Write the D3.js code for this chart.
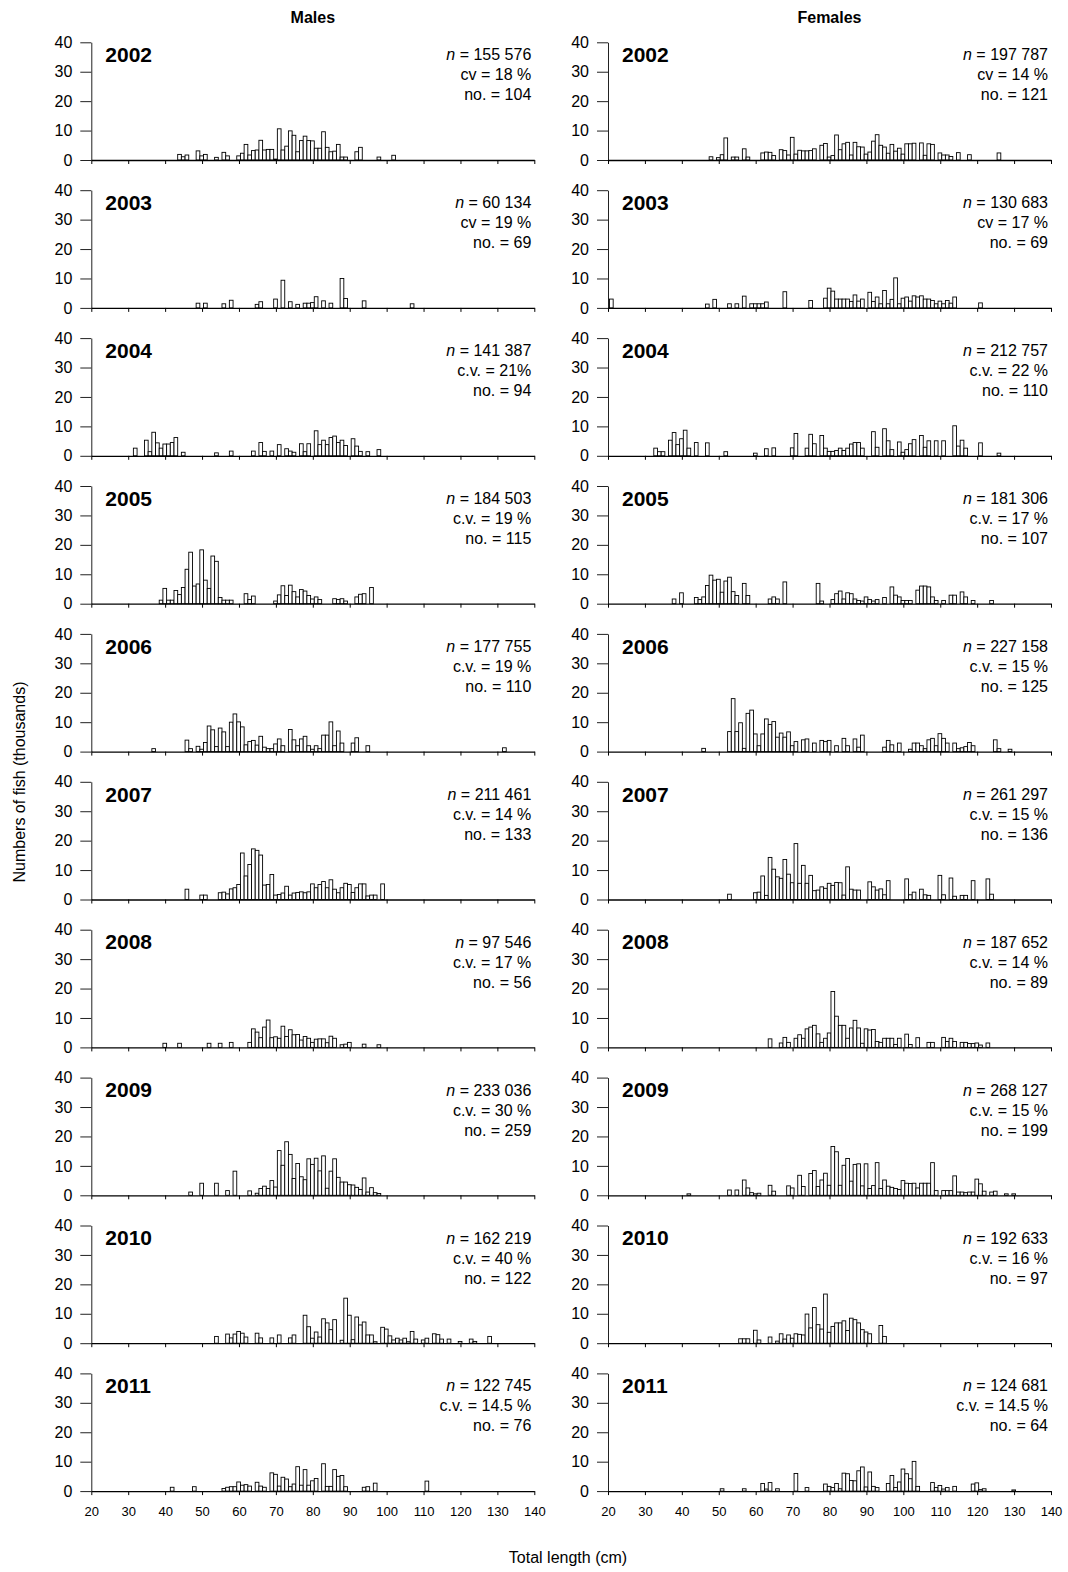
<!DOCTYPE html>
<html><head><meta charset="utf-8">
<script src="https://cdn.jsdelivr.net/npm/d3@7"></script>
<style>body{margin:0;background:#fff} text{font-family:"Liberation Sans",Arial,sans-serif}</style>
</head><body><svg id="c" width="1068" height="1572"></svg>
<script>
const lengthTicks = [20,30,40,50,60,70,80,90,100,110,120,130,140];
const yTicks = [0,10,20,30,40];
const years = [2002,2003,2004,2005,2006,2007,2008,2009,2010,2011];
const maleN = ["155 576","60 134","141 387","184 503","177 755","211 461","97 546","233 036","162 219","122 745"];
const maleCV = ["cv = 18 %","cv = 19 %","c.v. = 21%","c.v. = 19 %","c.v. = 19 %","c.v. = 14 %","c.v. = 17 %","c.v. = 30 %","c.v. = 40 %","c.v. = 14.5 %"];
const maleNo = [104,69,94,115,110,133,56,259,122,76];
const femaleN = ["197 787","130 683","212 757","181 306","227 158","261 297","187 652","268 127","192 633","124 681"];
const femaleCV = ["cv = 14 %","cv = 17 %","c.v. = 22 %","c.v. = 17 %","c.v. = 15 %","c.v. = 15 %","c.v. = 14 %","c.v. = 15 %","c.v. = 16 %","c.v. = 14.5 %"];
const femaleNo = [121,69,110,107,125,136,89,199,97,64];

// [length (cm), numbers (thousands)]
const males2002 = [[43,1.9],[44,1.1],[45,1.7],[48,3.1],[49,1.4],[50,1.9],[53,0.9],[55,2.6],[56,1.4],[59,1.4],[60,2.3],[61,5.3],[62,1.7],[63,3.2],[64,3.4],[65,6.7],[66,3.4],[67,3.6],[68,3.6],[69,0.3],[70,10.6],[71,3.4],[72,4.7],[73,9.9],[74,8.4],[75,2.8],[76,6.6],[77,8.1],[78,6.6],[79,6.5],[80,4],[81,4],[82,9.6],[83,4.3],[84,2.8],[85,3],[86,5.3],[87,1],[88,1],[91,2.8],[92,4.3],[97,1],[101,1.6]];
const males2003 = [[48,1.6],[50,1.6],[55,1.4],[57,2.6],[64,1.2],[65,2.1],[69,3],[71,9.4],[73,2.1],[75,1.2],[77,1.6],[78,1.6],[79,1.8],[80,3.8],[82,2.4],[84,1.6],[87,10],[88,3.2],[93,2.4],[106,1.4]];
const males2004 = [[31,2.6],[34,5.3],[35,1.4],[36,8],[37,4.4],[38,2.6],[39,4],[40,4],[41,4.5],[42,6.2],[44,1.2],[53,1],[57,1.6],[63,1.6],[65,4.5],[66,1.5],[68,1.6],[70,3.8],[72,2.4],[73,1.6],[74,1.2],[76,4.1],[77,1.4],[78,4.1],[80,8.5],[81,3.8],[82,5.3],[83,3.8],[84,6.2],[85,6.7],[86,4.5],[87,5.3],[88,3.5],[90,5.8],[91,3.3],[92,1.5],[94,1.4],[97,2.1]];
const males2005 = [[38,1.2],[39,5.2],[40,1.2],[41,1.2],[42,4.5],[43,3.1],[44,5.5],[45,11.7],[46,17.5],[47,6],[48,6.7],[49,18.3],[50,8],[51,5.2],[52,16.2],[53,14.4],[54,2.1],[55,1.2],[56,1.2],[57,1.2],[61,3.4],[62,1.4],[63,2.6],[69,0.9],[70,3],[71,6.1],[72,2.8],[73,6.3],[74,4.1],[75,2.3],[76,4.8],[77,4.3],[78,2.8],[79,1.6],[80,2.3],[81,1.4],[85,1.7],[86,1.4],[87,1.7],[88,0.9],[91,2.3],[92,3.2],[93,3.4],[95,5.5]];
const males2006 = [[36,1],[45,3.9],[46,1],[48,1.8],[49,0.8],[50,3.1],[51,8.7],[52,7.4],[53,1.7],[54,8],[55,6.7],[56,1.7],[57,10],[58,12.8],[59,10.1],[60,8.4],[61,2.3],[62,3.4],[63,3.8],[64,2.2],[65,5.2],[66,1.5],[67,1],[68,1],[69,2.6],[70,4.3],[71,2],[73,7.5],[74,4],[75,2],[76,4.3],[77,5.2],[78,2],[79,0.8],[80,2],[81,1],[82,5.6],[83,5.6],[84,10.1],[85,2],[86,7],[87,2.9],[90,2.9],[91,4.7],[94,2],[131,1.3]];
const males2007 = [[45,3.5],[49,1.5],[50,1.5],[54,2.3],[55,2.5],[56,1.9],[57,3.6],[58,4],[59,5.1],[60,15.8],[61,8],[62,11.9],[63,17.2],[64,16.7],[65,15.1],[66,4.9],[67,5.1],[68,8.5],[69,1.5],[70,1.7],[71,2.2],[72,4.5],[73,1.5],[74,2.2],[75,2.4],[76,2.6],[77,2.3],[78,2.6],[79,5.3],[80,4],[81,5.1],[82,6.1],[83,4],[84,6.7],[85,3.5],[86,2.3],[87,4],[88,5.5],[89,5.1],[90,2.4],[91,4],[92,5.3],[93,5.3],[94,1.2],[95,1.5],[96,1.5],[98,5.3]];
const males2008 = [[39,1.4],[43,1.4],[51,1.4],[54,1.4],[57,1.7],[62,1.7],[63,6.3],[64,5.2],[65,3.3],[66,6.9],[67,9.3],[68,3.3],[69,3.6],[70,3.1],[71,7.2],[72,3.7],[73,6],[74,4.3],[75,4.4],[76,2.5],[77,3.7],[78,3.1],[79,1.7],[80,2.8],[81,2.9],[82,2.9],[83,1.6],[84,3.8],[85,3.1],[87,0.9],[88,1.1],[89,1.7],[93,1.1],[97,0.9]];
const males2009 = [[46,1.1],[49,4.1],[53,4.1],[56,1.6],[58,8.2],[62,1.5],[64,0.7],[65,2.3],[66,3.1],[67,2.3],[68,5],[69,2.8],[70,15.2],[71,10.2],[72,18.2],[73,13.9],[74,5.7],[75,10.8],[76,6.3],[77,5.3],[78,12.4],[79,10.5],[80,12.6],[81,8.3],[82,13.4],[83,2.4],[84,8.2],[85,12.4],[86,6.1],[87,4.5],[88,4.5],[89,3.6],[90,3.5],[91,2.7],[92,2],[93,5.9],[94,1.1],[95,2.6],[96,0.9],[97,0.6]];
const males2010 = [[53,2.3],[56,3.1],[57,1.8],[58,3.1],[59,4],[60,3.4],[61,2.1],[64,3.4],[65,1.8],[68,1.8],[70,2.8],[73,1.8],[74,2.8],[77,9.5],[78,5.6],[79,1.7],[80,3.8],[81,2.1],[82,8.3],[83,6.9],[84,4.6],[85,8],[87,1],[88,15.3],[89,9.5],[90,1.2],[91,8.9],[92,6.2],[93,7.2],[94,2.8],[95,2.8],[96,0.5],[98,5.4],[99,4.8],[100,2.5],[101,1.1],[102,1.7],[103,1.1],[104,1.7],[105,0.5],[106,4],[107,1.4],[109,1.1],[110,1.7],[112,3.2],[113,2.9],[114,1.4],[116,1.4],[119,0.6],[122,1.4],[123,0.6],[127,2.3]];
const males2011 = [[41,1.3],[47,1.5],[55,0.9],[56,1.3],[57,1.5],[58,1.5],[59,3.1],[60,2],[61,2.2],[62,1.7],[64,3],[65,1.7],[66,1.3],[68,6.2],[69,5.7],[70,1.7],[71,4.7],[72,4.1],[73,1.5],[74,2.4],[75,8.3],[76,2],[77,7.3],[78,2],[79,3.5],[80,4.3],[82,9.3],[83,1.6],[84,1.6],[85,7.3],[86,5],[87,5.3],[88,1.5],[93,1.3],[94,1.5],[96,2.7],[110,3.4]];

const females2002 = [[47,1.1],[49,0.8],[50,1.8],[51,7.5],[53,1],[54,1],[56,3.8],[57,1],[61,2.4],[62,2.7],[63,2.6],[64,1.5],[66,3.5],[67,3.2],[68,1.7],[69,7.7],[70,2],[71,3.3],[72,3.1],[73,3.1],[74,3.2],[75,3.8],[77,5],[78,5.6],[79,1],[80,1.5],[81,8.5],[82,3.5],[83,5.5],[84,6],[85,1.7],[86,6],[87,4.5],[88,4.4],[89,2],[90,2.7],[91,6.4],[92,8.6],[93,5],[94,4.4],[95,2.3],[96,5.3],[97,3],[98,4],[99,2],[100,5.5],[101,5.5],[102,5.7],[104,5.8],[105,1.6],[106,5.5],[107,5.3],[109,2.4],[110,1.7],[111,1.7],[112,1.2],[114,2.5],[117,1.8],[125,2.4]];
const females2003 = [[20,3],[46,1.3],[48,2.9],[52,1.4],[54,1.4],[56,4],[58,1.4],[59,1.4],[60,1.4],[61,1.4],[62,2],[67,5.5],[74,2.5],[78,3.3],[79,6.7],[80,5.7],[81,3],[82,3],[83,3],[84,3],[85,2.2],[86,4.4],[87,2.3],[88,3],[90,5.3],[91,2.2],[92,3.7],[93,1.4],[94,5.9],[95,1.4],[96,2.9],[97,10.2],[98,1.4],[99,3.3],[100,3.7],[101,2.3],[102,4.1],[103,3.7],[104,4.1],[105,3],[106,3],[107,2.5],[108,1.4],[109,2.3],[110,1.4],[111,2.5],[112,1.6],[113,3.7],[120,1.7]];
const females2004 = [[32,2.6],[33,1.4],[34,1.4],[36,5.3],[37,7.9],[38,3.8],[39,5.8],[40,8.7],[41,2.6],[43,4.5],[46,4.4],[51,1.4],[59,0.9],[62,2.4],[64,2.7],[69,2.7],[70,7.6],[73,2.6],[74,7.3],[75,4.1],[77,6.9],[78,2.6],[79,1.5],[80,1.5],[81,1.8],[82,2.6],[83,1.8],[84,2.6],[85,4],[86,4.5],[87,4.5],[88,2.6],[91,8.2],[92,2.9],[94,9.2],[95,5.1],[96,2.1],[98,4.7],[99,1.2],[100,2.1],[101,4.1],[102,5.5],[104,6.9],[105,2.9],[106,5.1],[108,5.1],[110,5.1],[113,10.2],[114,3.3],[115,5.3],[116,2.6],[120,4.4],[125,0.9]];
const females2005 = [[37,1.6],[39,3.7],[43,2.1],[44,1.4],[45,2.3],[46,6.2],[47,9.7],[48,8],[49,8.3],[50,3.9],[51,7.7],[52,9],[53,4.1],[54,2.8],[56,6.9],[57,2.8],[63,1.6],[64,2.3],[65,1.6],[67,7.4],[76,6.9],[77,0.9],[80,1.4],[81,3.4],[82,4.3],[83,1.6],[84,3.7],[85,3.4],[86,1.6],[87,1.1],[88,0.9],[89,2.3],[90,1.4],[91,0.9],[92,1.4],[94,2.1],[96,5.7],[97,2.9],[98,2.3],[99,1.1],[100,1.1],[101,1.1],[103,4.6],[104,6],[105,6],[106,5.7],[107,2.3],[108,1.1],[110,1.1],[112,2.9],[113,2.9],[115,4],[116,2.3],[118,1.1],[123,1.1]];
const females2006 = [[45,1.1],[52,6.8],[53,18],[54,6.8],[55,9.8],[56,1.1],[57,13],[58,14.1],[59,6],[60,2],[61,6],[62,11.1],[63,9.2],[64,10.2],[65,4.9],[66,6.3],[67,4.9],[68,6.7],[69,2],[70,3.4],[72,4],[73,4.3],[75,2.9],[77,3.8],[78,3.4],[79,3.8],[81,2],[83,4.5],[84,2],[86,4.3],[87,1.5],[88,5.6],[94,1.5],[95,3.8],[96,2.3],[98,2.9],[101,0.8],[102,2.9],[103,2.9],[104,2],[105,1],[106,4],[107,4.5],[108,2],[109,6.1],[110,4.5],[111,2.9],[113,2.9],[114,1],[115,1.3],[116,1.7],[117,3.1],[118,2],[124,4],[125,1],[128,0.8]];
const females2007 = [[52,1.8],[59,2.3],[60,2.5],[61,8],[62,1.4],[63,14.3],[64,10.3],[65,7.7],[66,7.2],[67,13.6],[68,8.6],[69,5.7],[70,19],[71,5.5],[72,11.6],[73,5.5],[74,8.2],[75,3],[76,3.2],[77,4.3],[78,3.8],[79,5.5],[80,4.8],[81,5.8],[82,5.7],[83,1.5],[84,11.1],[85,3.5],[86,3.2],[87,3.2],[90,6],[91,4.3],[92,3.2],[93,3.6],[94,1.6],[95,6.4],[100,7],[101,1.6],[102,2.5],[104,3.5],[105,1.6],[106,1.4],[109,8.2],[110,1.6],[112,7.3],[113,1.1],[115,1.4],[116,1.4],[118,6.4],[122,7],[123,1.8]];
const females2008 = [[63,2.9],[66,1.5],[67,3.4],[68,1.7],[70,3.1],[71,4.3],[72,3.1],[73,6.3],[74,6.9],[75,7.5],[76,4.6],[77,1.7],[78,3.1],[79,4.9],[80,19],[81,10.6],[82,7.5],[83,7.5],[84,3.1],[85,6.6],[86,9.2],[87,6.6],[88,1.4],[89,6.3],[90,5.9],[91,6.1],[92,2],[93,1.7],[94,3.1],[95,3.1],[96,3.1],[97,1],[98,3.1],[100,4.5],[101,1],[103,3.3],[106,1.7],[107,1.7],[110,3.4],[111,2],[112,3.1],[113,2],[115,1.7],[116,1.7],[117,1.3],[118,1.3],[119,1.5],[120,0.8],[122,1.5]];
const females2009 = [[41,0.5],[52,1.8],[54,1.8],[56,5.2],[57,2.5],[58,0.9],[59,0.5],[60,0.7],[63,3.4],[64,1.4],[68,3.2],[69,2.5],[71,6.8],[72,3],[74,7.4],[75,8.4],[76,3],[77,5.2],[78,7.5],[79,3.4],[80,16.6],[81,14.8],[82,3.4],[83,10.2],[84,12.5],[85,4.8],[86,10.5],[87,10.7],[88,3.2],[89,10.7],[90,2.3],[91,3.3],[92,11.1],[93,2.3],[94,5.2],[95,3.1],[96,2.7],[97,2.3],[98,2],[99,5],[100,4.1],[101,4],[102,4.1],[103,2.5],[104,4.1],[105,4.1],[106,4.1],[107,11.1],[108,1.6],[110,1.6],[111,1.6],[112,1.6],[113,6.6],[114,1.1],[115,1.1],[116,0.9],[117,1.1],[118,1.1],[119,5.5],[120,3.9],[121,1.4],[123,1.1],[124,1.4],[127,0.5],[129,0.5]];
const females2010 = [[55,1.5],[56,1.5],[57,1.5],[59,4.4],[60,1.1],[63,2.1],[65,0.7],[66,3.2],[67,1.4],[68,2.8],[69,1.7],[70,3.2],[71,3],[72,2.8],[73,9.9],[74,5.2],[75,12.1],[76,6.3],[77,4.8],[78,16.7],[79,3.7],[80,5.7],[81,6.9],[82,6.9],[83,7.6],[84,4.3],[85,8.5],[86,8],[87,6.9],[88,4.6],[89,3.8],[90,3.2],[93,6],[94,2.3]];
const females2011 = [[50,0.8],[56,0.8],[61,2.6],[62,0.7],[63,2.9],[65,0.8],[70,6],[73,1.2],[78,2.4],[79,1.6],[80,1.2],[81,2.6],[82,0.8],[83,6.1],[84,5.9],[85,3.6],[86,3.5],[87,6.9],[88,8.2],[89,1.4],[90,6.5],[91,1.6],[92,1.2],[95,2.6],[96,5.3],[97,1.2],[98,3.1],[99,7.5],[100,5.9],[101,4.2],[102,10.1],[103,1.6],[107,2.9],[108,1.2],[109,1.9],[110,0.7],[111,1.2],[113,1.6],[118,2.4],[119,2.8],[120,0.5],[121,0.8],[129,0.4]];

const maleSeries = [males2002,males2003,males2004,males2005,males2006,males2007,males2008,males2009,males2010,males2011];
const femaleSeries = [females2002,females2003,females2004,females2005,females2006,females2007,females2008,females2009,females2010,females2011];

const svg = d3.select("#c");
svg.append("rect").attr("width",1068).attr("height",1572).attr("fill","#fff");

const colX0 = [91.3, 608];
const plotW = 443;
const zero0 = 160, rowStep = 147.9, plotH = 117.7;

const cols = [
  {series: maleSeries, n: maleN, cv: maleCV, no: maleNo, title: "Males"},
  {series: femaleSeries, n: femaleN, cv: femaleCV, no: femaleNo, title: "Females"}
];

cols.forEach((col, ci) => {
  const x0 = colX0[ci];
  const x = d3.scaleLinear().domain([20,140]).range([x0, x0 + plotW]);

  svg.append("text").attr("x", x0 + plotW/2).attr("y", 23)
    .attr("text-anchor","middle").attr("font-weight","bold").attr("font-size",16).text(col.title);

  years.forEach((yr, ri) => {
    const zero = zero0 + ri * rowStep;
    const y = d3.scaleLinear().domain([0,40]).range([zero, zero - plotH]);
    const g = svg.append("g");

    g.selectAll("rect.bar").data(col.series[ri]).join("rect").attr("class","bar")
      .attr("x", d => x(d[0] + 0.4))
      .attr("width", d => x(d[0] + 1.4) - x(d[0] + 0.4))
      .attr("y", d => y(d[1]))
      .attr("height", d => zero - y(d[1]))
      .attr("fill","#fff").attr("stroke","#000").attr("stroke-width",0.9);

    const ya = g.append("g").attr("transform",`translate(${x0},0)`)
      .call(d3.axisLeft(y).tickValues(yTicks).tickSize(11).tickSizeOuter(0).tickPadding(8));
    ya.selectAll("text").attr("font-size",16).attr("font-family","Liberation Sans, Arial, sans-serif").attr("fill","#000");
    ya.selectAll("line").attr("stroke","#222");
    ya.select(".domain").attr("stroke","#222");

    const xa = g.append("g").attr("transform",`translate(0,${zero})`)
      .call(d3.axisBottom(x).tickValues(lengthTicks).tickSize(4).tickSizeOuter(0).tickPadding(12)
        .tickFormat(ri === years.length - 1 ? d3.format("d") : () => ""));
    xa.selectAll("text").attr("font-size",13).attr("font-family","Liberation Sans, Arial, sans-serif").attr("fill","#000");
    xa.selectAll("line").attr("stroke","#000");
    xa.select(".domain").attr("stroke","#000").attr("stroke-width",1.3);

    const top = zero - plotH;
    g.append("text").attr("x", x0 + 14).attr("y", top + 19.7)
      .attr("font-weight","bold").attr("font-size",21).text(yr);

    const sx = x0 + 440;
    const t1 = g.append("text").attr("x", sx).attr("y", top + 18).attr("text-anchor","end").attr("font-size",16);
    t1.append("tspan").attr("font-style","italic").text("n");
    t1.append("tspan").text(" = " + col.n[ri]);
    g.append("text").attr("x", sx).attr("y", top + 38).attr("text-anchor","end").attr("font-size",16).text(col.cv[ri]);
    g.append("text").attr("x", sx).attr("y", top + 58).attr("text-anchor","end").attr("font-size",16).text("no. = " + col.no[ri]);
  });
});

svg.append("text").attr("transform","translate(25,782) rotate(-90)")
  .attr("text-anchor","middle").attr("font-size",16).text("Numbers of fish (thousands)");
svg.append("text").attr("x",568).attr("y",1563)
  .attr("text-anchor","middle").attr("font-size",16).text("Total length (cm)");
</script></body></html>
